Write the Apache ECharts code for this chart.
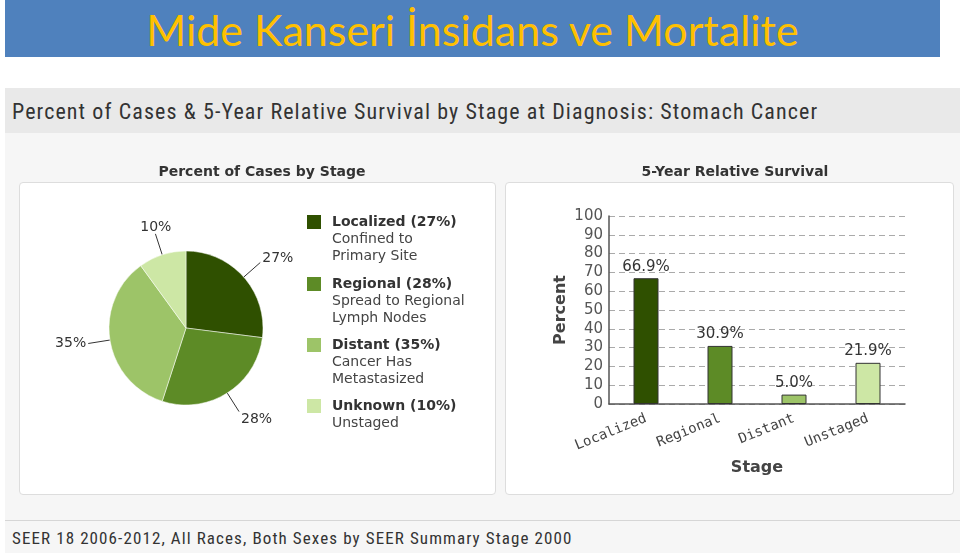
<!DOCTYPE html>
<html>
<head>
<meta charset="utf-8">
<script src="https://cdn.jsdelivr.net/npm/echarts@6/dist/echarts.min.js"></script>
<style>
html,body{margin:0;padding:0;width:960px;height:553px;overflow:hidden;background:#fff;}
#band{position:absolute;left:5px;top:0;width:935px;height:57px;background:#4f81bd;}
#title{position:absolute;left:5px;top:0;width:935px;height:57px;line-height:60px;text-align:center;color:#ffc000;font-family:Lato,"Open Sans",sans-serif;font-size:43px;}
#panel{position:absolute;left:5px;top:88px;width:955px;height:465px;background:#f6f6f6;}
#head{position:absolute;left:5px;top:88px;width:955px;height:45px;background:#e9e9e9;}
#headtxt{position:absolute;left:12px;top:99px;font-family:"Roboto Condensed","Open Sans",sans-serif;font-size:22px;letter-spacing:1.1px;color:#333;white-space:nowrap;}
#box1{position:absolute;left:19px;top:182px;width:475px;height:311px;background:#fff;border:1px solid #ddd;border-radius:4px;}
#box2{position:absolute;left:505px;top:182px;width:447px;height:311px;background:#fff;border:1px solid #ddd;border-radius:4px;}
#sep{position:absolute;left:5px;top:520px;width:955px;height:1px;background:#d6d6d6;}
#foot{position:absolute;left:12px;top:528px;font-family:"Roboto Condensed","Open Sans",sans-serif;font-size:17px;letter-spacing:1.1px;color:#333;white-space:nowrap;}
#chart{position:absolute;left:0;top:0;width:960px;height:553px;}
</style>
</head>
<body>
<div id="band"></div>
<div id="title">Mide Kanseri İnsidans ve Mortalite</div>
<div id="panel"></div>
<div id="head"></div>
<div id="headtxt">Percent of Cases &amp; 5-Year Relative Survival by Stage at Diagnosis: Stomach Cancer</div>
<div id="box1"></div>
<div id="box2"></div>
<div id="sep"></div>
<div id="foot">SEER 18 2006-2012, All Races, Both Sexes by SEER Summary Stage 2000</div>
<div id="chart"></div>
<script>
// ---- data ----
var pieNames = ['Localized', 'Regional', 'Distant', 'Unknown'];
var pieValues = [27, 28, 35, 10];
var pieDescriptions = [['Confined to', 'Primary Site'], ['Spread to Regional', 'Lymph Nodes'], ['Cancer Has', 'Metastasized'], ['Unstaged']];
var stageCategories = ['Localized', 'Regional', 'Distant', 'Unstaged'];
var survivalValues = [66.9, 30.9, 5.0, 21.9];
var yTicks = [0, 10, 20, 30, 40, 50, 60, 70, 80, 90, 100];
var colors = ['#2f5000', '#5d8b26', '#9dc468', '#cde7a5'];

var chart = echarts.init(document.getElementById('chart'), null, {renderer: 'canvas'});

var pieData = pieNames.map(function (n, i) {
  return {name: n, value: pieValues[i], itemStyle: {color: colors[i]}};
});
var barData = survivalValues.map(function (v, i) {
  return {value: v, itemStyle: {color: colors[i]}};
});

// legend built as graphic
var legendGraphics = [];
var ly = [222, 284, 345, 406];
pieNames.forEach(function (n, i) {
  legendGraphics.push({type: 'rect', shape: {x: 307, y: ly[i] - 7, width: 14, height: 14}, style: {fill: colors[i]}});
  legendGraphics.push({type: 'text', x: 332, y: ly[i], style: {text: n + ' (' + pieValues[i] + '%)', font: 'bold 14px "DejaVu Sans", Verdana, sans-serif', fill: '#333', textVerticalAlign: 'middle'}});
  pieDescriptions[i].forEach(function (d, j) {
    legendGraphics.push({type: 'text', x: 332, y: ly[i] + 17 * (j + 1), style: {text: d, font: '14px "DejaVu Sans", Verdana, sans-serif', fill: '#444', textVerticalAlign: 'middle'}});
  });
});

var option = {
  animation: false,
  backgroundColor: 'transparent',
  title: [
    {text: 'Percent of Cases by Stage', left: 257, top: 160, textAlign: 'center',
      textStyle: {fontFamily: '"DejaVu Sans", sans-serif', fontSize: 14, fontWeight: 'bold', color: '#333'}},
    {text: '5-Year Relative Survival', left: 730, top: 160, textAlign: 'center',
      textStyle: {fontFamily: '"DejaVu Sans", sans-serif', fontSize: 14, fontWeight: 'bold', color: '#333'}}
  ],
  graphic: legendGraphics,
  grid: {left: 609, right: 55, top: 216, bottom: 149},
  xAxis: {
    type: 'category', data: stageCategories,
    name: 'Stage', nameLocation: 'middle', nameGap: 56,
    nameTextStyle: {fontFamily: '"DejaVu Sans", sans-serif', fontSize: 16, fontWeight: 'bold', color: '#444'},
    axisLine: {lineStyle: {color: '#555', width: 1.5}},
    axisTick: {show: false},
    axisLabel: {rotate: 22, interval: 0, margin: 14, fontFamily: '"DejaVu Sans Mono", monospace', fontSize: 14, color: '#444'}
  },
  yAxis: {
    type: 'value', min: 0, max: 100, interval: 10,
    name: 'Percent', nameLocation: 'middle', nameGap: 40, nameRotate: 90,
    nameTextStyle: {fontFamily: '"DejaVu Sans", sans-serif', fontSize: 16, fontWeight: 'bold', color: '#444'},
    axisLine: {show: true, lineStyle: {color: '#555', width: 1.5}},
    axisTick: {show: false},
    axisLabel: {margin: 6, fontFamily: '"DejaVu Sans", sans-serif', fontSize: 15, color: '#555',
      formatter: function (v) { return yTicks.indexOf(v) >= 0 ? String(v) : ''; }},
    splitLine: {show: true, lineStyle: {color: '#aaa', type: [6, 4], width: 1}}
  },
  series: [
    {
      type: 'pie', center: [186, 328], radius: 77, startAngle: 90, clockwise: true,
      data: pieData,
      label: {show: true, formatter: '{c}%', fontFamily: '"DejaVu Sans", sans-serif', fontSize: 14, color: '#333', distanceToLabelLine: 2},
      labelLine: {show: true, length: 22, length2: 0, lineStyle: {color: '#333', width: 1}},
      labelLayout: function (p) {
        if (p.dataIndex === 3) { return {dx: 18, dy: -6}; }
        if (p.dataIndex === 1) { return {dy: 8}; }
        if (p.dataIndex === 0) { return {dy: -4}; }
        return {};
      },
      itemStyle: {borderColor: '#fff', borderWidth: 0.5},
      emphasis: {disabled: true}
    },
    {
      type: 'bar', data: barData, barWidth: 25,
      itemStyle: {borderColor: '#333', borderWidth: 1},
      label: {show: true, position: 'top', distance: 4, formatter: function (p) { return p.value.toFixed(1) + '%'; },
        fontFamily: '"DejaVu Sans", sans-serif', fontSize: 15, color: '#333'},
      emphasis: {disabled: true}
    }
  ]
};
chart.setOption(option);
</script>
</body>
</html>
